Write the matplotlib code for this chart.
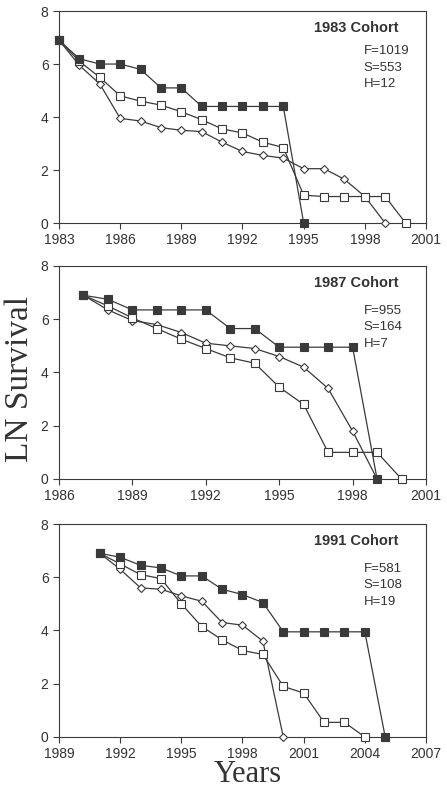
import numpy as np
import matplotlib
matplotlib.use("Agg")
import matplotlib.pyplot as plt

plt.rcParams["font.family"] = ["Liberation Sans", "DejaVu Sans"]

# LN survival per cohort: F (filled squares), S (open squares), H (diamonds)
years_83 = list(range(1983, 2001))
f_83 = [6.9, 6.2, 6.0, 6.0, 5.8, 5.1, 5.1, 4.4, 4.4, 4.4, 4.4, 4.4, 0.0]
s_83 = [6.9, 6.1, 5.5, 4.8, 4.6, 4.45, 4.2, 3.9, 3.55, 3.4, 3.05, 2.85, 1.05, 1.0, 1.0, 1.0, 1.0, 0.0]
h_83 = [6.9, 5.95, 5.25, 3.95, 3.85, 3.6, 3.5, 3.45, 3.05, 2.7, 2.55, 2.45, 2.05, 2.05, 1.65, 1.0, 0.0]

years_87 = list(range(1987, 2001))
f_87 = [6.9, 6.75, 6.35, 6.35, 6.35, 6.35, 5.65, 5.65, 4.95, 4.95, 4.95, 4.95, 0.0]
s_87 = [6.9, 6.5, 6.05, 5.65, 5.25, 4.9, 4.55, 4.35, 3.45, 2.8, 1.0, 1.0, 1.0, 0.0]
h_87 = [6.9, 6.35, 5.95, 5.8, 5.5, 5.1, 5.0, 4.9, 4.6, 4.2, 3.4, 1.8, 0.0]

years_91 = list(range(1991, 2006))
f_91 = [6.9, 6.75, 6.45, 6.35, 6.05, 6.05, 5.55, 5.35, 5.05, 3.95, 3.95, 3.95, 3.95, 3.95, 0.0]
s_91 = [6.9, 6.5, 6.1, 5.95, 5.0, 4.15, 3.65, 3.25, 3.1, 1.9, 1.65, 0.55, 0.55, 0.0]
h_91 = [6.9, 6.3, 5.6, 5.55, 5.3, 5.1, 4.3, 4.2, 3.6, 0.0]

cohorts = ["1983 Cohort", "1987 Cohort", "1991 Cohort"]
counts = [("F=1019", "S=553", "H=12"), ("F=955", "S=164", "H=7"), ("F=581", "S=108", "H=19")]
xlims = [(1983, 2001), (1986, 2001), (1989, 2007)]
xtick_sets = [range(1983, 2002, 3), range(1986, 2002, 3), range(1989, 2008, 3)]

dark = "#3a3a3a"
txt = "#333333"

fig = plt.figure(figsize=(4.47, 7.9), dpi=100)
boxes = [[0.132, 0.7177, 0.821, 0.2683],
         [0.132, 0.3937, 0.821, 0.2696],
         [0.132, 0.0671, 0.821, 0.2696]]
data = [(years_83, f_83, s_83, h_83), (years_87, f_87, s_87, h_87), (years_91, f_91, s_91, h_91)]

for i, box in enumerate(boxes):
    ax = fig.add_axes(box)
    yrs, f, s, h = data[i]
    # diamonds first, squares on top
    ax.plot(yrs[:len(h)], h, color=dark, lw=0.9, marker="D", ms=4.2,
            mfc="white", mec=dark, mew=0.8, zorder=3, clip_on=False)
    ax.plot(yrs[:len(s)], s, color=dark, lw=0.9, marker="s", ms=6.2,
            mfc="white", mec=dark, mew=0.8, zorder=4, clip_on=False)
    ax.plot(yrs[:len(f)], f, color=dark, lw=0.9, marker="s", ms=5.8,
            mfc=dark, mec=dark, mew=0.8, zorder=5, clip_on=False)

    ax.set_xlim(*xlims[i])
    ax.set_ylim(0, 8)
    ax.set_xticks(list(xtick_sets[i]))
    ax.set_yticks([0, 2, 4, 6, 8])
    ax.tick_params(direction="out", length=4, width=0.8, colors=dark,
                   labelcolor=txt, labelsize=10)
    for sp in ax.spines.values():
        sp.set_color(dark)
        sp.set_linewidth(0.8)

    ty = 0.92
    ax.text(0.925, ty, cohorts[i], transform=ax.transAxes, ha="right", va="center",
            fontsize=10.5, fontweight="bold", color=txt)
    top = 0.81 if i == 0 else 0.79
    for k, line in enumerate(counts[i]):
        ax.text(0.83, top - k * 0.077, line, transform=ax.transAxes, ha="left",
                va="center", fontsize=9.5, color=txt)

fig.text(0.045, 0.52, "LN Survival", rotation=90, ha="center", va="center",
         fontsize=24, family="Liberation Serif", color=txt)
fig.text(0.555, 0.019, "Years", ha="center", va="center",
         fontsize=22, family="Liberation Serif", color=txt)

fig.savefig("out.png", dpi=100)
